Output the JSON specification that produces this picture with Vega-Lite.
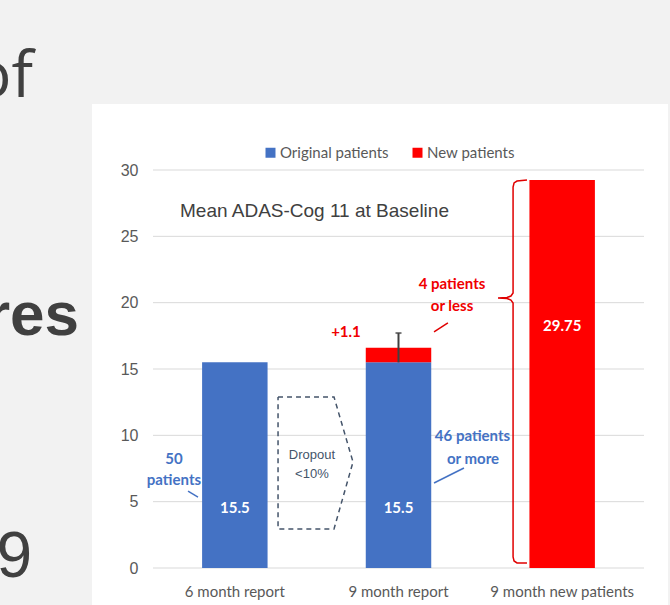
{
  "$schema": "https://vega.github.io/schema/vega-lite/v6.json",
  "width": 491,
  "height": 398,
  "autosize": {"type": "none"},
  "padding": {"left": 153, "top": 170, "right": 26, "bottom": 37},
  "background": "white",
  "config": {
    "view": {"stroke": null},
    "axisY": {"tickCount": 6, "grid": false, "domain": false, "ticks": false, "labelPadding": 15, "labelFont": "Liberation Sans", "labelFontSize": 16, "labelColor": "#595959"}
  },
  "datasets": {
    "bars": [
      {"period": "6 month report", "group": "Original patients", "value": 15.5},
      {"period": "9 month  report", "group": "Original patients", "value": 15.5},
      {"period": "9 month  report", "group": "New patients", "value": 1.1},
      {"period": "9 month new patients", "group": "New patients", "value": 29.25}
    ],
    "grid": [{"v": 0}, {"v": 5}, {"v": 10}, {"v": 15}, {"v": 20}, {"v": 25}, {"v": 30}],
    "slide": [
      {"x1": -0.935, "x2": 3.159, "y1": 42.81, "y2": 34.97},
      {"x1": -0.935, "x2": -0.3727, "y1": 34.97, "y2": -2.79},
      {"x1": 3.147, "x2": 3.159, "y1": 34.97, "y2": -2.79}
    ],
    "barLabels": [
      {"x": 0.5, "y": 4.52, "label": "15.5"},
      {"x": 1.5, "y": 4.52, "label": "15.5"},
      {"x": 2.5, "y": 18.24, "label": "29.75"}
    ],
    "errors": [{"x": 1.5, "lo": 15.5, "hi": 17.71}],
    "notes": [
      {"kind": "title", "x": 0.165, "y": 26.91, "text": "Mean ADAS-Cog 11 at Baseline"},
      {"kind": "blue", "x": 0.128, "y": 8.22, "text": "50"},
      {"kind": "blue", "x": 0.128, "y": 6.63, "text": "patients"},
      {"kind": "blue", "x": 1.952, "y": 9.95, "text": "46 patients"},
      {"kind": "blue", "x": 1.955, "y": 8.22, "text": "or more"},
      {"kind": "red", "x": 1.179, "y": 17.79, "text": "+1.1"},
      {"kind": "red", "x": 1.827, "y": 21.41, "text": "4 patients"},
      {"kind": "red", "x": 1.827, "y": 19.75, "text": "or less"},
      {"kind": "gray", "x": 0.971, "y": 8.52, "text": "Dropout"},
      {"kind": "gray", "x": 0.971, "y": 7.09, "text": "<10%"}
    ],
    "fragments": [
      {"kind": "of", "x": -0.733, "y": 35.5, "text": "of"},
      {"kind": "res", "x": -0.452, "y": 17.56, "text": "res"},
      {"kind": "nine", "x": -0.739, "y": -0.68, "text": "9"}
    ],
    "paths": [
      {"path": "b1", "i": 0, "x": 0.214, "y": 5.8},
      {"path": "b1", "i": 1, "x": 0.275, "y": 5.35},
      {"path": "b2", "i": 0, "x": 1.717, "y": 6.41},
      {"path": "b2", "i": 1, "x": 1.9, "y": 7.54},
      {"path": "r1", "i": 0, "x": 1.717, "y": 17.79},
      {"path": "r1", "i": 1, "x": 1.802, "y": 18.47},
      {"path": "brace", "i": 0, "x": 2.285, "y": 29.25},
      {"path": "brace", "i": 1, "x": 2.224, "y": 29.17},
      {"path": "brace", "i": 2, "x": 2.206, "y": 29.02},
      {"path": "brace", "i": 3, "x": 2.2, "y": 28.72},
      {"path": "brace", "i": 4, "x": 2.2, "y": 20.73},
      {"path": "brace", "i": 5, "x": 2.187, "y": 20.5},
      {"path": "brace", "i": 6, "x": 2.163, "y": 20.39},
      {"path": "brace", "i": 7, "x": 2.108, "y": 20.35},
      {"path": "brace", "i": 8, "x": 2.163, "y": 20.31},
      {"path": "brace", "i": 9, "x": 2.187, "y": 20.2},
      {"path": "brace", "i": 10, "x": 2.2, "y": 19.97},
      {"path": "brace", "i": 11, "x": 2.2, "y": 0.83},
      {"path": "brace", "i": 12, "x": 2.206, "y": 0.53},
      {"path": "brace", "i": 13, "x": 2.224, "y": 0.38},
      {"path": "brace", "i": 14, "x": 2.285, "y": 0.38},
      {"path": "drop", "i": 0, "x": 0.764, "y": 12.89},
      {"path": "drop", "i": 1, "x": 1.106, "y": 12.89},
      {"path": "drop", "i": 2, "x": 1.222, "y": 7.99},
      {"path": "drop", "i": 3, "x": 1.106, "y": 2.94},
      {"path": "drop", "i": 4, "x": 0.764, "y": 2.94},
      {"path": "drop", "i": 5, "x": 0.764, "y": 12.89}
    ]
  },
  "resolve": {"scale": {"x": "independent"}},
  "layer": [
    {
      "data": {"name": "slide"},
      "mark": {"type": "rect", "color": "#F2F2F2"},
      "encoding": {
        "x": {"field": "x1", "type": "quantitative", "scale": {"domain": [0, 3], "nice": false, "zero": false}, "axis": null},
        "x2": {"field": "x2"},
        "y": {"field": "y1", "type": "quantitative", "title": null, "scale": {"domain": [0, 30], "nice": false}},
        "y2": {"field": "y2"}
      }
    },
    {
      "data": {"name": "grid"},
      "mark": {"type": "rule", "color": "#D9D9D9", "strokeWidth": 1},
      "encoding": {
        "y": {"field": "v", "type": "quantitative", "title": null, "scale": {"domain": [0, 30], "nice": false}}
      }
    },
    {
      "data": {"name": "bars"},
      "mark": {"type": "bar"},
      "encoding": {
        "x": {
          "field": "period", "type": "nominal", "sort": null,
          "scale": {"paddingInner": 0.6, "paddingOuter": 0.3},
          "axis": {"title": null, "labelAngle": 0, "domain": false, "ticks": false, "labelPadding": 16, "labelFont": "Lato", "labelFontSize": 15, "labelColor": "#595959"}
        },
        "y": {
          "field": "value", "type": "quantitative", "stack": "zero", "title": null,
          "scale": {"domain": [0, 30], "nice": false}
        },
        "color": {
          "field": "group", "type": "nominal",
          "scale": {"domain": ["Original patients", "New patients"], "range": ["#4472C4", "#FF0000"]},
          "legend": {"title": null, "orient": "none", "legendX": 110, "legendY": -25, "direction": "horizontal", "symbolType": "square", "symbolSize": 100, "symbolStrokeWidth": 0, "labelFont": "Lato", "labelFontSize": 15, "labelColor": "#595959", "columnPadding": 21, "labelOffset": 2}
        },
        "order": {"field": "group", "sort": "descending"}
      }
    },
    {
      "data": {"name": "errors"},
      "mark": {"type": "rule", "color": "#404040", "strokeWidth": 2},
      "encoding": {
        "x": {"field": "x", "type": "quantitative", "scale": {"domain": [0, 3], "nice": false, "zero": false}, "axis": null},
        "y": {"field": "lo", "type": "quantitative", "title": null, "scale": {"domain": [0, 30], "nice": false}},
        "y2": {"field": "hi"}
      }
    },
    {
      "data": {"name": "errors"},
      "mark": {"type": "tick", "color": "#404040", "orient": "horizontal", "size": 6, "thickness": 2},
      "encoding": {
        "x": {"field": "x", "type": "quantitative", "scale": {"domain": [0, 3], "nice": false, "zero": false}, "axis": null},
        "y": {"field": "hi", "type": "quantitative", "title": null, "scale": {"domain": [0, 30], "nice": false}}
      }
    },
    {
      "data": {"name": "barLabels"},
      "mark": {"type": "text", "color": "white", "font": "Lato", "fontWeight": "bold", "fontSize": 15, "align": "center", "baseline": "middle"},
      "encoding": {
        "x": {"field": "x", "type": "quantitative", "scale": {"domain": [0, 3], "nice": false, "zero": false}, "axis": null},
        "y": {"field": "y", "type": "quantitative", "title": null, "scale": {"domain": [0, 30], "nice": false}},
        "text": {"field": "label"}
      }
    },
    {
      "data": {"name": "paths"},
      "transform": [{"filter": "datum.path === 'b1' || datum.path === 'b2'"}],
      "mark": {"type": "line", "color": "#4472C4", "strokeWidth": 1.5},
      "encoding": {
        "x": {"field": "x", "type": "quantitative", "scale": {"domain": [0, 3], "nice": false, "zero": false}, "axis": null},
        "y": {"field": "y", "type": "quantitative", "title": null, "scale": {"domain": [0, 30], "nice": false}},
        "detail": {"field": "path"},
        "order": {"field": "i"}
      }
    },
    {
      "data": {"name": "paths"},
      "transform": [{"filter": "datum.path === 'r1' || datum.path === 'brace'"}],
      "mark": {"type": "line", "color": "#E00000", "strokeWidth": 1.5},
      "encoding": {
        "x": {"field": "x", "type": "quantitative", "scale": {"domain": [0, 3], "nice": false, "zero": false}, "axis": null},
        "y": {"field": "y", "type": "quantitative", "title": null, "scale": {"domain": [0, 30], "nice": false}},
        "detail": {"field": "path"},
        "order": {"field": "i"}
      }
    },
    {
      "data": {"name": "paths"},
      "transform": [{"filter": "datum.path === 'drop'"}],
      "mark": {"type": "line", "color": "#44546A", "strokeWidth": 1.5, "strokeDash": [5, 4]},
      "encoding": {
        "x": {"field": "x", "type": "quantitative", "scale": {"domain": [0, 3], "nice": false, "zero": false}, "axis": null},
        "y": {"field": "y", "type": "quantitative", "title": null, "scale": {"domain": [0, 30], "nice": false}},
        "order": {"field": "i"}
      }
    },
    {
      "data": {"name": "notes"},
      "transform": [{"filter": "datum.kind === 'title'"}],
      "mark": {"type": "text", "color": "#404040", "font": "Liberation Sans", "fontSize": 19, "align": "left", "baseline": "middle"},
      "encoding": {
        "x": {"field": "x", "type": "quantitative", "scale": {"domain": [0, 3], "nice": false, "zero": false}, "axis": null},
        "y": {"field": "y", "type": "quantitative", "title": null, "scale": {"domain": [0, 30], "nice": false}},
        "text": {"field": "text"}
      }
    },
    {
      "data": {"name": "notes"},
      "transform": [{"filter": "datum.kind === 'blue'"}],
      "mark": {"type": "text", "color": "#4472C4", "font": "Lato", "fontWeight": "bold", "fontSize": 15, "align": "center", "baseline": "middle"},
      "encoding": {
        "x": {"field": "x", "type": "quantitative", "scale": {"domain": [0, 3], "nice": false, "zero": false}, "axis": null},
        "y": {"field": "y", "type": "quantitative", "title": null, "scale": {"domain": [0, 30], "nice": false}},
        "text": {"field": "text"}
      }
    },
    {
      "data": {"name": "notes"},
      "transform": [{"filter": "datum.kind === 'red'"}],
      "mark": {"type": "text", "color": "#F00000", "font": "Lato", "fontWeight": "bold", "fontSize": 15, "align": "center", "baseline": "middle"},
      "encoding": {
        "x": {"field": "x", "type": "quantitative", "scale": {"domain": [0, 3], "nice": false, "zero": false}, "axis": null},
        "y": {"field": "y", "type": "quantitative", "title": null, "scale": {"domain": [0, 30], "nice": false}},
        "text": {"field": "text"}
      }
    },
    {
      "data": {"name": "notes"},
      "transform": [{"filter": "datum.kind === 'gray'"}],
      "mark": {"type": "text", "color": "#44546A", "font": "Liberation Sans", "fontSize": 13, "align": "center", "baseline": "middle"},
      "encoding": {
        "x": {"field": "x", "type": "quantitative", "scale": {"domain": [0, 3], "nice": false, "zero": false}, "axis": null},
        "y": {"field": "y", "type": "quantitative", "title": null, "scale": {"domain": [0, 30], "nice": false}},
        "text": {"field": "text"}
      }
    },
    {
      "data": {"name": "fragments"},
      "transform": [{"filter": "datum.kind === 'of'"}],
      "mark": {"type": "text", "color": "#404040", "font": "Open Sans", "fontSize": 64, "align": "right", "baseline": "alphabetic"},
      "encoding": {
        "x": {"field": "x", "type": "quantitative", "scale": {"domain": [0, 3], "nice": false, "zero": false}, "axis": null},
        "y": {"field": "y", "type": "quantitative", "title": null, "scale": {"domain": [0, 30], "nice": false}},
        "text": {"field": "text"}
      }
    },
    {
      "data": {"name": "fragments"},
      "transform": [{"filter": "datum.kind === 'res'"}],
      "mark": {"type": "text", "color": "#404040", "font": "Liberation Sans", "fontWeight": "bold", "fontSize": 62, "align": "right", "baseline": "alphabetic"},
      "encoding": {
        "x": {"field": "x", "type": "quantitative", "scale": {"domain": [0, 3], "nice": false, "zero": false}, "axis": null},
        "y": {"field": "y", "type": "quantitative", "title": null, "scale": {"domain": [0, 30], "nice": false}},
        "text": {"field": "text"}
      }
    },
    {
      "data": {"name": "fragments"},
      "transform": [{"filter": "datum.kind === 'nine'"}],
      "mark": {"type": "text", "color": "#404040", "font": "Liberation Sans", "fontSize": 64, "align": "right", "baseline": "alphabetic"},
      "encoding": {
        "x": {"field": "x", "type": "quantitative", "scale": {"domain": [0, 3], "nice": false, "zero": false}, "axis": null},
        "y": {"field": "y", "type": "quantitative", "title": null, "scale": {"domain": [0, 30], "nice": false}},
        "text": {"field": "text"}
      }
    }
  ]
}
